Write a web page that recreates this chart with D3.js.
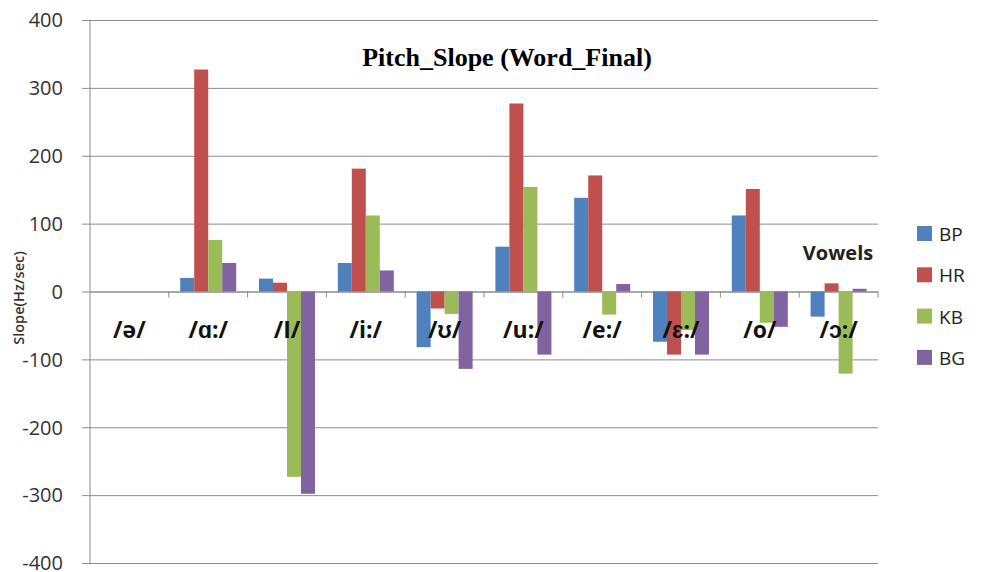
<!DOCTYPE html>
<html><head><meta charset="utf-8">
<script src="https://cdn.jsdelivr.net/npm/d3@7"></script>
<style>body{margin:0;background:#fff}svg{display:block}</style>
</head><body>
<svg id="c" width="982" height="572"></svg>
<script>
const categories = ["/ə/","/ɑ:/","/I/","/i:/","/ʊ/","/u:/","/e:/","/ɛ:/","/o/","/ɔ:/"];
const seriesNames = ["BP","HR","KB","BG"];
const BP = [0, 20, 19, 42, -82, 66, 138, -74, 112, -37];
const HR = [0, 327, 13, 181, -25, 277, 171, -93, 151, 12];
const KB = [0, 76, -273, 112, -33, 154, -34, -57, -46, -121];
const BG = [0, 42, -298, 31, -114, -93, 11, -93, -52, 4];
const colors = ["#4F81BD","#C0504D","#9BBB59","#8064A2"];
const yTicks = [400,300,200,100,0,-100,-200,-300,-400];
const title = "Pitch_Slope (Word_Final)";
const yTitle = "Slope(Hz/sec)";
const xTitle = "Vowels";

const series = [BP,HR,KB,BG];
const svg = d3.select("#c");
const L = 90, R = 878, T = 20, B = 563;
const x = d3.scaleBand().domain(categories).range([L,R]).paddingInner(0).paddingOuter(0);
const y = d3.scaleLinear().domain([-400,400]).range([B,T]);
const grp = 56/78.8;
const xs = d3.scaleBand().domain(seriesNames).range([0, x.bandwidth()*grp]);
const off = (x.bandwidth() - x.bandwidth()*grp)/2;

// gridlines
const ya = d3.axisLeft(y).tickValues(yTicks).tickSize(-(R-L)).tickFormat(d=>String(d));
const gy = svg.append("g").attr("transform",`translate(${L},0)`).call(ya);
gy.select(".domain").remove();
gy.selectAll(".tick line").attr("stroke","#8c8c8c").attr("x1",-8);
gy.selectAll(".tick text").attr("font-family","Open Sans, sans-serif").attr("font-size",20).attr("fill","#333").attr("x",-27).attr("dy","0.34em");
svg.append("line").attr("x1",L).attr("x2",L).attr("y1",T).attr("y2",B).attr("stroke","#8c8c8c");

// category ticks at zero line
const xa = d3.axisBottom(x).tickSize(0).tickFormat("");
const gx = svg.append("g").attr("transform",`translate(0,${y(0)})`).call(xa);
gx.select(".domain").attr("stroke","#8c8c8c");
const bounds = categories.map((c,i)=>x(c)).concat([R]);
gx.selectAll(".sep").data(bounds.slice(1)).enter().append("line")
  .attr("x1",d=>d).attr("x2",d=>d).attr("y1",0).attr("y2",6).attr("stroke","#8c8c8c");

// bars
series.forEach((s,si)=>{
  svg.append("g").selectAll("rect").data(s).enter().append("rect")
    .attr("x",(d,i)=>x(categories[i])+off+xs(seriesNames[si]))
    .attr("width",xs.bandwidth())
    .attr("y",d=>y(Math.max(0,d)))
    .attr("height",d=>Math.abs(y(d)-y(0)))
    .attr("fill",colors[si]);
});

// category labels
svg.append("g").selectAll("text").data(categories).enter().append("text")
  .attr("x",d=>x(d)+x.bandwidth()/2).attr("y",338)
  .attr("text-anchor","middle").attr("font-family","Open Sans, sans-serif")
  .attr("font-weight","bold").attr("font-size",23).attr("fill","#111").text(d=>d);

// title
svg.append("text").attr("x",507).attr("y",66).attr("text-anchor","middle")
  .attr("font-family","Liberation Serif, serif").attr("font-weight","bold").attr("font-size",26).attr("fill","#000").text(title);
// y title
svg.append("text").attr("transform","translate(24,298) rotate(-90)").attr("text-anchor","middle")
  .attr("font-family","Open Sans, sans-serif").attr("font-weight","600").attr("font-size",14.5).attr("fill","#333").text(yTitle);
// x title
svg.append("text").attr("x",838).attr("y",260).attr("text-anchor","middle")
  .attr("font-family","Open Sans, sans-serif").attr("font-weight","bold").attr("font-size",20).attr("fill","#222").text(xTitle);

// legend
const lg = svg.append("g").selectAll("g").data(seriesNames).enter().append("g")
  .attr("transform",(d,i)=>`translate(917,${226+i*41.3})`);
lg.append("rect").attr("width",15).attr("height",15).attr("fill",(d,i)=>colors[i]);
lg.append("text").attr("x",22).attr("y",15).attr("font-family","Open Sans, sans-serif").attr("font-size",19).attr("fill","#222").text(d=>d);
</script>
</body></html>
